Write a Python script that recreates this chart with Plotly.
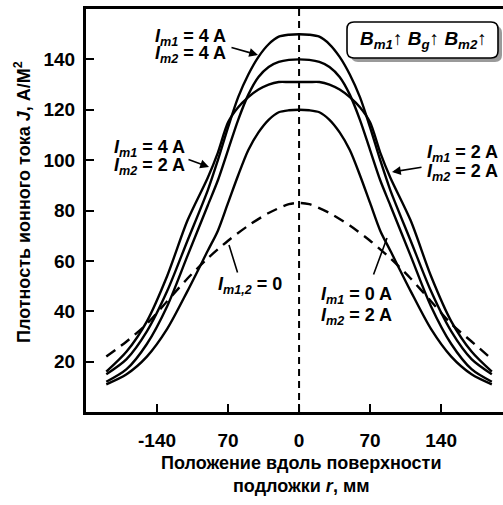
import plotly.graph_objects as go

# ---------------- data ----------------
r_solid = [-190, -170, -150, -130, -110, -90, -80, -70, -60, -50, -40, -30, -20, -10, 0,
           10, 20, 30, 40, 50, 60, 70, 80, 90, 110, 130, 150, 170, 190]
J_44 = [15, 21, 32, 48, 68, 88, 100, 113, 125, 134, 141, 146, 149, 149.8, 150,
        149.8, 149, 146, 141, 134, 125, 113, 100, 88, 68, 48, 32, 21, 15]
J_peak140 = [12, 17, 27, 42, 62, 82, 92, 104, 116, 126, 133, 137, 139, 139.8, 140,
             139.8, 139, 137, 133, 126, 116, 104, 92, 82, 62, 42, 27, 17, 12]
J_flat131 = [16, 24, 36, 54, 76, 93, 103, 115, 121, 125, 128, 130, 131, 131, 131,
             131, 131, 130, 128, 125, 121, 115, 103, 93, 76, 54, 36, 24, 16]
J_peak120 = [11, 15, 22, 33, 48, 64, 72, 83, 94, 104, 111, 116, 119, 119.8, 120,
             119.8, 119, 116, 111, 104, 94, 83, 72, 64, 48, 33, 22, 15, 11]

r_dash = [-190, -170, -150, -130, -110, -90, -70, -50, -30, -10, 0,
          10, 30, 50, 70, 90, 110, 130, 150, 170, 190]
J_zero = [22, 28, 35, 44, 53, 61, 68, 74, 79, 82.5, 83,
          82.5, 79, 74, 68, 61, 53, 44, 35, 28, 21]

x_tickvals = [-140, -70, 0, 70, 140]
x_ticktext = ["-140", "70", "0", "70", "140"]
y_tickvals = [20, 40, 60, 80, 100, 120, 140]

# ---------------- layout helpers ----------------
W, H = 503, 505
L, R, T, B = 86, 0, 9, 93
PW, PH = W - L - R, H - T - B
FONT = "Liberation Sans, Arial, sans-serif"


def px(x):
    return (x - L) / PW


def py(y):
    return (H - B - y) / PH


fig = go.Figure()
for J in [J_44, J_peak140, J_flat131, J_peak120]:
    fig.add_trace(go.Scatter(x=r_solid, y=J, mode="lines",
                             line=dict(color="black", width=2.4, shape="spline", smoothing=0.8),
                             showlegend=False, hoverinfo="skip"))
fig.add_trace(go.Scatter(x=r_dash, y=J_zero, mode="lines",
                         line=dict(color="black", width=2.4, dash="11px,7px", shape="spline", smoothing=0.8),
                         showlegend=False, hoverinfo="skip"))

shapes = []
# vertical dashed centre line
shapes.append(dict(type="line", xref="x", yref="paper", x0=0, x1=0, y0=0, y1=1,
                   line=dict(color="black", width=2, dash="7px,5px")))


def rrect(x0, y0, x1, y1, rad):
    X0, X1 = px(x0), px(x1)
    Y0, Y1 = py(y0), py(y1)
    rx, ry = rad / PW, rad / PH
    return (f"M {X0+rx},{Y0} L {X1-rx},{Y0} Q {X1},{Y0} {X1},{Y0-ry} "
            f"L {X1},{Y1+ry} Q {X1},{Y1} {X1-rx},{Y1} L {X0+rx},{Y1} "
            f"Q {X0},{Y1} {X0},{Y1+ry} L {X0},{Y0-ry} Q {X0},{Y0} {X0+rx},{Y0} Z")


shapes.append(dict(type="path", xref="paper", yref="paper", path=rrect(351, 26, 502, 62, 7),
                   fillcolor="#9a9a9a", line=dict(width=0)))
shapes.append(dict(type="path", xref="paper", yref="paper", path=rrect(347, 22, 498, 58, 7),
                   fillcolor="white", line=dict(color="black", width=1.6)))

ann = []


def label(text, x, y, anchor="left", size=18):
    ann.append(dict(text=text, xref="paper", yref="paper", x=px(x), y=py(y),
                    xanchor=anchor, yanchor="middle", showarrow=False,
                    font=dict(family=FONT, size=size, color="black")))


def arrow(x_tip, y_tip, x_tail, y_tail, head=2):
    ann.append(dict(text="", xref="paper", yref="paper", x=px(x_tip), y=py(y_tip),
                    ax=x_tail - x_tip, ay=y_tail - y_tip, showarrow=True,
                    arrowhead=head, arrowsize=1.1, arrowwidth=1.6, arrowcolor="black"))


def I(sub, val):
    return f"<b><i>I</i><sub><i>{sub}</i></sub> = {val}</b>"


label(I("m1", "4 A"), 228, 37, "right")
label(I("m2", "4 A"), 228, 55, "right")
arrow(258, 55, 230, 47)

label(I("m1", "4 A"), 187, 148, "right")
label(I("m2", "2 A"), 187, 166, "right")
arrow(209, 167, 187, 159)

label(I("m1", "2 A"), 425, 153, "left")
label(I("m2", "2 A"), 425, 173, "left")
arrow(392, 172, 423, 167)

label(I("m1,2", "0"), 216, 285, "left")
arrow(229, 245, 238, 274, head=0)

label(I("m1", "0 A"), 319, 295, "left")
label(I("m2", "2 A"), 319, 316, "left")
arrow(387, 238, 373, 276, head=0)

label("<b><i>B</i><sub><i>m1</i></sub>↑ <i>B</i><sub><i>g</i></sub>↑ <i>B</i><sub><i>m2</i></sub>↑</b>",
      423, 40, "center", size=19)

# axis titles
label("<b>Положение вдоль поверхности</b>", 301, 463, "center", size=18)
label("<b>подложки <i>r</i>, мм</b>", 301, 486, "center", size=18)
ann.append(dict(text="<b>Плотность ионного тока <i>J</i>, А/М<sup>2</sup></b>",
                xref="paper", yref="paper", x=px(22), y=py(202), textangle=-90,
                xanchor="center", yanchor="middle", showarrow=False,
                font=dict(family=FONT, size=18, color="black")))

fig.update_layout(
    width=W, height=H, margin=dict(l=L, r=R, t=T, b=B),
    paper_bgcolor="white", plot_bgcolor="white",
    shapes=shapes, annotations=ann, showlegend=False,
    xaxis=dict(range=[-210, 201], tickvals=x_tickvals, ticktext=x_ticktext,
               ticks="inside", ticklen=8, tickwidth=2, tickcolor="black",
               showline=True, linecolor="black", linewidth=3, mirror=True,
               showgrid=False, zeroline=False, ticklabelstandoff=9,
               tickfont=dict(family=FONT, size=19, color="black", weight="bold")),
    yaxis=dict(range=[0, 160], tickvals=y_tickvals,
               ticks="inside", ticklen=8, tickwidth=2, tickcolor="black",
               showline=True, linecolor="black", linewidth=3,
               showgrid=False, zeroline=False, ticklabelstandoff=4,
               tickfont=dict(family=FONT, size=19, color="black", weight="bold")),
)

fig.write_html("out.html", config={"displayModeBar": False},
               post_script="document.body.style.margin='0';document.body.style.overflow='hidden';")
